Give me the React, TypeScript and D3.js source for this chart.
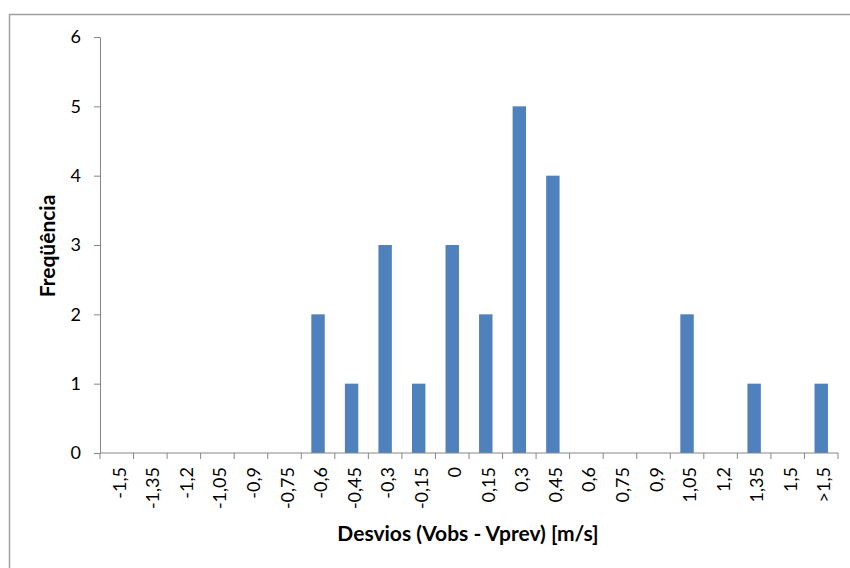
import React, { useEffect, useRef } from 'react';
import * as d3 from 'd3';

const categories = [
  '-1,5', '-1,35', '-1,2', '-1,05', '-0,9', '-0,75', '-0,6', '-0,45', '-0,3', '-0,15', '0',
  '0,15', '0,3', '0,45', '0,6', '0,75', '0,9', '1,05', '1,2', '1,35', '1,5', '>1,5',
];
const frequencies = [0, 0, 0, 0, 0, 0, 2, 1, 3, 1, 3, 2, 5, 4, 0, 0, 0, 2, 0, 1, 0, 1];
const yTicks = [0, 1, 2, 3, 4, 5, 6];

const FONT = 'Lato, "Open Sans", sans-serif';

const App: React.FC = () => {
  const svgRef = useRef<SVGSVGElement>(null);

  useEffect(() => {
    if (!svgRef.current) return;
    const svg = d3.select(svgRef.current);
    svg.selectAll('*').remove();

    const left = 100, right = 838, top = 37, bottom = 453;

    // chart frame (only left/top visible in the picture)
    svg.append('rect')
      .attr('x', 9.5).attr('y', 14.5)
      .attr('width', 900).attr('height', 600)
      .attr('fill', '#fff')
      .attr('stroke', '#a0a0a0')
      .attr('stroke-width', 1.5);

    const x = d3.scaleBand<string>()
      .domain(categories)
      .range([left, right])
      .paddingInner(0.6)
      .paddingOuter(0.3);

    const xBand = d3.scaleBand<string>()
      .domain(categories)
      .range([left, right]);

    const y = d3.scaleLinear().domain([0, 6]).range([bottom, top]);

    // bars
    svg.selectAll('.bar')
      .data(categories)
      .enter().append('rect')
      .attr('class', 'bar')
      .attr('x', (d) => x(d)!)
      .attr('width', x.bandwidth())
      .attr('y', (d, i) => y(frequencies[i]))
      .attr('height', (d, i) => bottom - y(frequencies[i]))
      .attr('fill', '#4f81bd');

    // y axis
    const yAxis = svg.append('g')
      .attr('transform', `translate(${left},0)`)
      .call(
        d3.axisLeft(y)
          .tickValues(yTicks)
          .tickFormat(d3.format('d'))
          .tickSize(6)
          .tickPadding(13)
          .tickSizeOuter(0)
      );
    yAxis.selectAll('path, line').attr('stroke', '#868686');
    yAxis.selectAll('text')
      .attr('fill', '#000')
      .style('font-family', FONT)
      .style('font-size', '18px');

    // x axis
    const xAxis = svg.append('g').attr('transform', `translate(0,${bottom})`);
    xAxis.append('line')
      .attr('x1', left).attr('x2', right)
      .attr('y1', 0).attr('y2', 0)
      .attr('stroke', '#868686');
    const bounds = categories.map((c) => xBand(c)!).concat([right]);
    xAxis.selectAll('.xtick')
      .data(bounds)
      .enter().append('line')
      .attr('x1', (d) => d).attr('x2', (d) => d)
      .attr('y1', 0).attr('y2', 6)
      .attr('stroke', '#868686');
    xAxis.selectAll('.xlabel')
      .data(categories)
      .enter().append('text')
      .attr('transform', (d) => `translate(${xBand(d)! + xBand.bandwidth() / 2 + 9},14) rotate(-90)`)
      .attr('text-anchor', 'end')
      .style('font-family', FONT)
      .style('font-size', '18px')
      .attr('fill', '#000')
      .text((d) => d);

    // titles
    svg.append('text')
      .attr('x', 468).attr('y', 541)
      .attr('text-anchor', 'middle')
      .style('font-family', FONT)
      .style('font-size', '21px')
      .style('font-weight', 'bold')
      .text('Desvios (Vobs - Vprev) [m/s]');

    svg.append('text')
      .attr('transform', 'translate(55,246) rotate(-90)')
      .attr('text-anchor', 'middle')
      .style('font-family', FONT)
      .style('font-size', '21px')
      .style('font-weight', 'bold')
      .text('Freqüência');
  }, []);

  return (
    <svg
      ref={svgRef}
      width={850}
      height={568}
      style={{ position: 'absolute', left: 0, top: 0, background: '#fff' }}
    />
  );
};

export default App;
